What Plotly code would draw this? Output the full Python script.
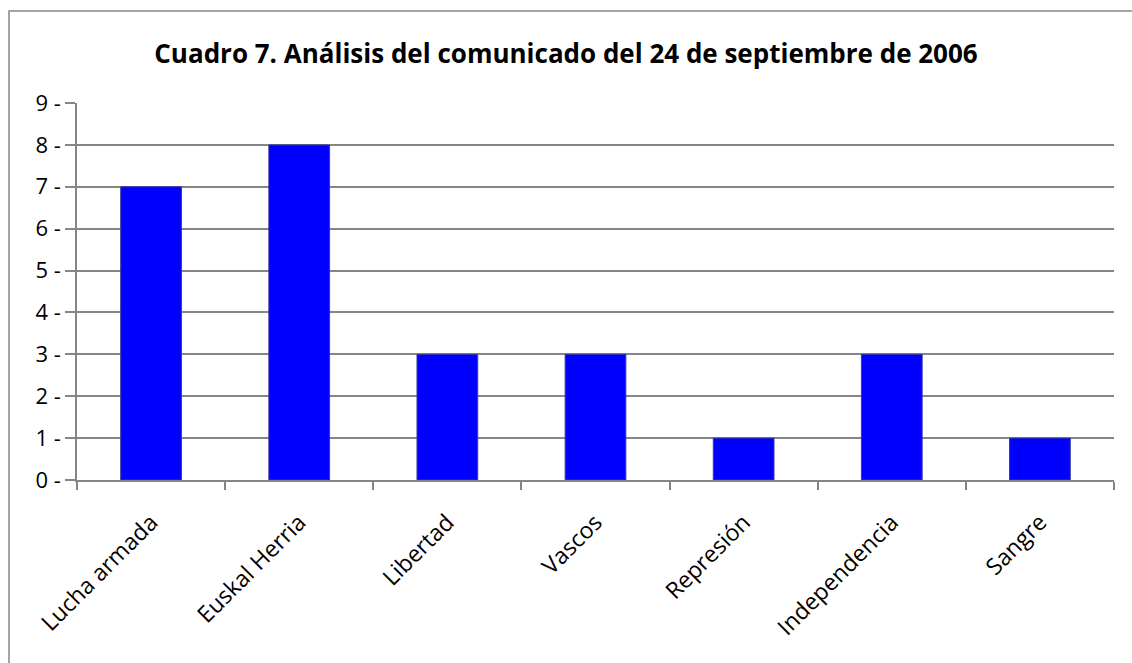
import plotly.graph_objects as go

categories = ["Lucha armada", "Euskal Herria", "Libertad", "Vascos", "Represión", "Independencia", "Sangre"]
values = [7, 8, 3, 3, 1, 3, 1]
y_ticks = [0, 1, 2, 3, 4, 5, 6, 7, 8, 9]
title_text = "Cuadro 7. Análisis del comunicado del 24 de septiembre de 2006"

FONT = "Open Sans"
GRID = "#868686"

fig = go.Figure()
fig.add_trace(go.Bar(
    x=categories, y=values,
    marker=dict(color="#0000FF", line=dict(color="#3a3a9a", width=1)),
    hoverinfo="x+y",
))

fig.update_layout(
    width=1132, height=663,
    margin=dict(l=77, r=18, t=103, b=183),
    paper_bgcolor="white", plot_bgcolor="white",
    showlegend=False,
    bargap=0.59,
    title=dict(text="<b>" + title_text + "</b>", x=0.5, xanchor="center",
               y=1 - 54 / 663, yanchor="middle",
               font=dict(family=FONT, size=26, color="black")),
    font=dict(family=FONT, color="black"),
)
fig.update_xaxes(
    type="category", tickangle=-45, tickfont=dict(size=23, family=FONT, color="black"),
    showline=True, linecolor=GRID, linewidth=1.5,
    ticks="outside", tickson="boundaries", ticklen=8, tickcolor=GRID, tickwidth=1.5,
    ticklabelstandoff=18,
    showgrid=False,
)
fig.update_yaxes(
    range=[0, 9], tickvals=y_ticks, ticktext=[f"{v} -" for v in y_ticks],
    tickfont=dict(size=22, family=FONT, color="black"),
    showline=True, linecolor=GRID, linewidth=1.5,
    ticks="outside", ticklen=10, tickcolor=GRID, tickwidth=1.5,
    showgrid=True, gridcolor=GRID, gridwidth=1.5, zeroline=False,
)
# chart frame (decoration)
fig.add_shape(type="rect", xref="paper", yref="paper",
              x0=(9 - 77) / 1037, x1=(1140 - 77) / 1037,
              y0=(480 - 670) / 377, y1=1 + (103 - 11) / 377,
              line=dict(color="#868686", width=1.5), fillcolor="rgba(0,0,0,0)", layer="below")

fig.write_html("out.html", config={"displayModeBar": False},
               post_script="document.body.style.margin='0';document.body.style.overflow='hidden';")
